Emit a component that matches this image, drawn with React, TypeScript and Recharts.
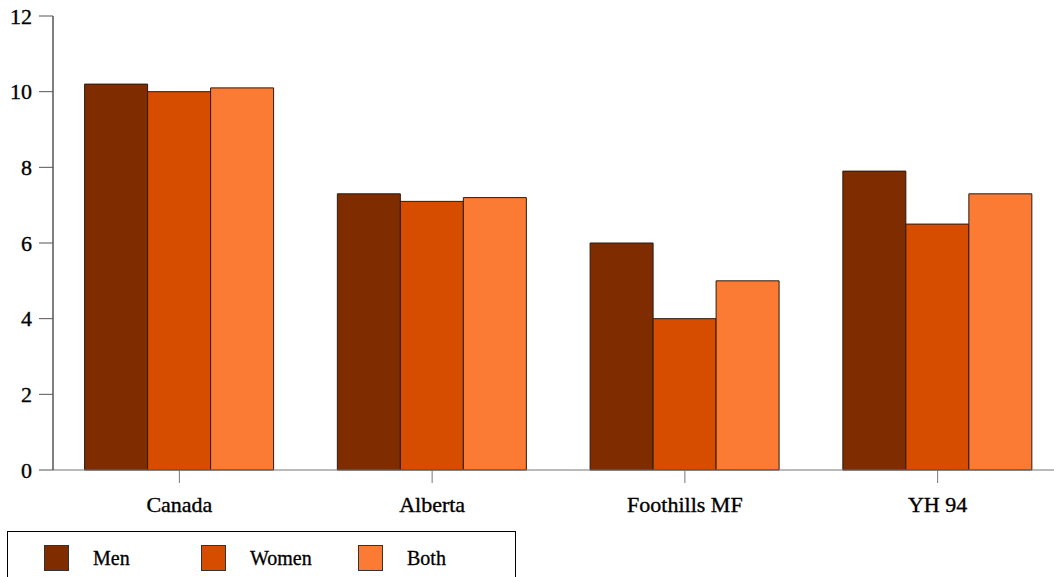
import React from 'react';
import { BarChart, Bar, XAxis, YAxis } from 'recharts';

const regions = ['Canada', 'Alberta', 'Foothills MF', 'YH 94'];
const men = [10.2, 7.3, 6.0, 7.9];
const women = [10.0, 7.1, 4.0, 6.5];
const both = [10.1, 7.2, 5.0, 7.3];
const yTicks = [0, 2, 4, 6, 8, 10, 12];

const series = [
  { key: 'men', name: 'Men', color: '#7f2d00' },
  { key: 'women', name: 'Women', color: '#d64d00' },
  { key: 'both', name: 'Both', color: '#fc7b34' }
];

const data = regions.map((r, i) => ({ region: r, men: men[i], women: women[i], both: both[i] }));

const font = '"Liberation Serif", "Times New Roman", serif';
// reference text looks a little heavier than plain Liberation Serif
const tickStyle = { fill: '#000', fontSize: 22, fontFamily: font, stroke: '#000', strokeWidth: 0.35 };

export default function App() {
  return (
    <div style={{ position: 'absolute', left: 0, top: 0, width: 1054, height: 577, overflow: 'hidden', background: '#fff', fontFamily: font }}>
      <BarChart
        width={1064}
        height={577}
        data={data}
        margin={{ top: 16, right: 0, left: 0, bottom: 47 }}
        barCategoryGap="12.5%"
        barGap={0}
      >
        <XAxis
          dataKey="region"
          height={60}
          tickSize={13}
          tickMargin={13}
          stroke="#777"
          tick={tickStyle}
        />
        <YAxis
          width={53}
          domain={[0, 12]}
          ticks={yTicks}
          tickSize={14}
          tickMargin={7}
          stroke="#000"
          tickLine={{ stroke: '#555' }}
          tick={tickStyle}
        />
        {series.map(s => (
          <Bar key={s.key} dataKey={s.key} name={s.name} fill={s.color} stroke="#2a1a10" strokeWidth={1} isAnimationActive={false} />
        ))}
      </BarChart>
      <div style={{ position: 'absolute', left: 7, top: 531, width: 509, height: 60, border: '1px solid #000', boxSizing: 'border-box' }}>
        {series.map((s, i) => (
          <div key={s.key} style={{ position: 'absolute', left: 36 + i * 157, top: 13, display: 'flex', alignItems: 'center' }}>
            <div style={{ width: 25, height: 26, background: s.color, border: '1px solid #333', boxSizing: 'border-box' }} />
            <span style={{ marginLeft: 24, fontSize: 20, color: '#000', WebkitTextStroke: '0.3px #000' }}>{s.name}</span>
          </div>
        ))}
      </div>
    </div>
  );
}
